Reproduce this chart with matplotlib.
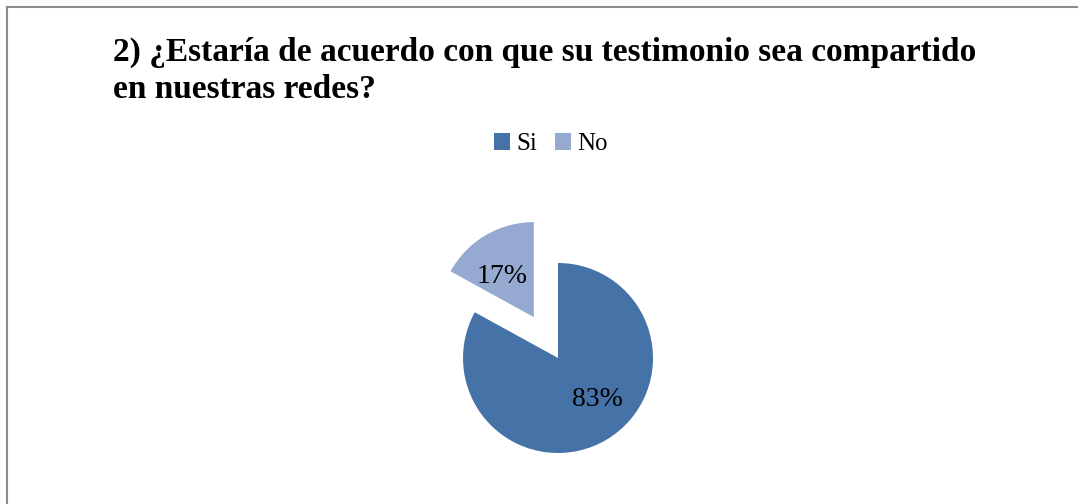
import matplotlib.pyplot as plt
from matplotlib.lines import Line2D

# Chart data
labels = ['Si', 'No']
values = [83, 17]
colors = ['#4572A7', '#95A9D1']
title = '2) ¿Estaría de acuerdo con que su testimonio sea compartido\nen nuestras redes?'

W, H = 1078, 504
fig = plt.figure(figsize=(W / 100, H / 100), dpi=100)
fig.patch.set_facecolor('white')

# pie axes: center (558, 358) px, radius 95 px
r = 95
cx, cy = 558, H - 358
lim = 1.6
side = 2 * lim * r
ax = fig.add_axes([(cx - side / 2) / W, (cy - side / 2) / H, side / W, side / H])

wedges, texts, autotexts = ax.pie(values, colors=colors, startangle=90,
                                  counterclock=False, explode=[0, 0.5],
                                  autopct='%1.0f%%', pctdistance=0.58,
                                  textprops={'family': 'Liberation Serif',
                                             'fontsize': 20, 'color': 'black'})
ax.set_xlim(-lim, lim)
ax.set_ylim(-lim, lim)
ax.set_aspect('equal')
ax.axis('off')
# Excel puts the big label a bit further round than the bisector
autotexts[0].set_position((0.41, -0.44))
autotexts[1].set_position((-0.59, 0.86))

fig.text(113 / W, 1 - 37 / H, title, family='Liberation Serif',
         fontweight='bold', fontsize=24, va='top', ha='left', linespacing=1.25)

fig.legend(wedges, labels, loc='center', bbox_to_anchor=(551 / W, 1 - 144 / H),
           ncol=2, frameon=False, prop={'family': 'Liberation Serif', 'size': 18},
           handlelength=0.65, handleheight=0.65, handletextpad=0.25,
           columnspacing=0.7)

# outer frame (only top and left edges are visible)
fig.add_artist(Line2D([7 / W, 7 / W], [0, 1 - 7 / H], transform=fig.transFigure,
                      color='#8c8c8c', linewidth=1.5))
fig.add_artist(Line2D([7 / W, 1], [1 - 7 / H, 1 - 7 / H], transform=fig.transFigure,
                      color='#8c8c8c', linewidth=1.5))

fig.savefig('out.png', dpi=100)
